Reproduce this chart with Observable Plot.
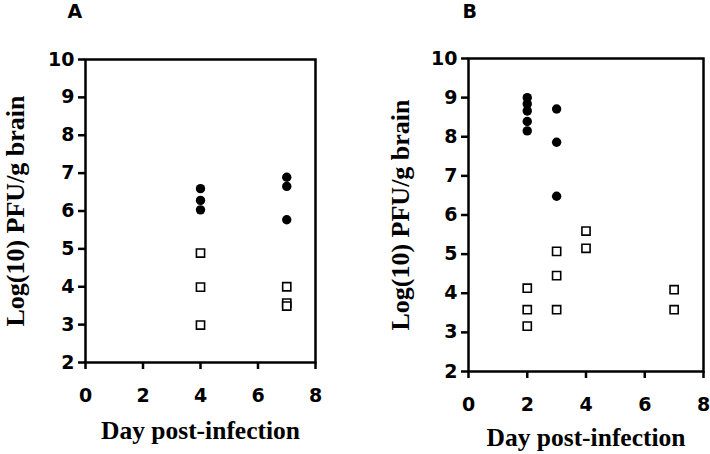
<!DOCTYPE html>
<html>
<head>
<meta charset="utf-8">
<script src="https://cdn.jsdelivr.net/npm/d3@7"></script>
<script src="https://cdn.jsdelivr.net/npm/@observablehq/plot@0.6"></script>
<style>
  html, body { margin: 0; padding: 0; background: #fff; }
  #wrap { position: relative; width: 710px; height: 454px; overflow: hidden; background: #fff; }
  #wrap > svg { position: absolute; top: 0; }
</style>
</head>
<body>
<div id="wrap"></div>
<script>
// ---- data ----
const xTicks = [0, 2, 4, 6, 8];
const yTicks = [2, 3, 4, 5, 6, 7, 8, 9, 10];
const panelLabels = ["A", "B"];
const xTitle = "Day post-infection";
const yTitle = "Log(10) PFU/g brain";

// Panel A
const aFilledDay = [4, 4, 4, 7, 7, 7];
const aFilledValue = [6.59, 6.28, 6.03, 6.89, 6.65, 5.77];
const aOpenDay = [4, 4, 4, 7, 7, 7];
const aOpenValue = [4.89, 3.99, 2.99, 4.0, 3.57, 3.49];

// Panel B
const bFilledDay = [2, 2, 2, 2, 2, 3, 3, 3];
const bFilledValue = [9.0, 8.84, 8.66, 8.39, 8.15, 8.71, 7.86, 6.48];
const bOpenDay = [2, 2, 2, 3, 3, 3, 4, 4, 7, 7];
const bOpenValue = [4.13, 3.58, 3.16, 5.07, 4.45, 3.58, 5.59, 5.15, 4.09, 3.58];

function rows(xs, ys) { return xs.map((x, i) => ({x, y: ys[i]})); }

function panel(cfg) {
  const tickFont = {fontSize: 19, fontWeight: "bold", fontFamily: "DejaVu Sans"};
  return Plot.plot({
    width: 355,
    height: 454,
    marginLeft: cfg.ml, marginRight: cfg.mr, marginTop: cfg.mt, marginBottom: cfg.mb,
    style: {background: "#fff", color: "#000", overflow: "visible"},
    x: {domain: [0, 8], ticks: xTicks, label: null},
    y: {domain: [2, 10], ticks: yTicks, label: null},
    marks: [
      Plot.axisX({ticks: xTicks, tickSize: 7, tickPadding: 19, strokeWidth: 2.5, label: null, ...tickFont}),
      Plot.axisY({ticks: yTicks, tickSize: 7, tickPadding: 4, strokeWidth: 2.5, label: null, ...tickFont}),
      Plot.frame({stroke: "#000", strokeWidth: 2.5}),
      Plot.dot(rows(cfg.openDay, cfg.openValue), {x: "x", y: "y", symbol: "square", r: 4.6, fill: "#fff", stroke: "#000", strokeWidth: 1.6}),
      Plot.dot(rows(cfg.filledDay, cfg.filledValue), {x: "x", y: "y", symbol: "circle", r: 4.7, fill: "#000", stroke: "none"}),
      Plot.text([yTitle], {text: d => d, frameAnchor: "left", textAnchor: "middle", lineAnchor: "middle", rotate: -90, dx: cfg.ytDx,
        fontSize: 26, fontWeight: "bold", fontFamily: "Liberation Serif", fill: "#000"}),
      Plot.text([xTitle], {text: d => d, frameAnchor: "bottom", textAnchor: "middle", lineAnchor: "middle", dy: cfg.xtDy,
        fontSize: 25.5, fontWeight: "bold", fontFamily: "Liberation Serif", fill: "#000"}),
      Plot.text([cfg.label], {text: d => d, frameAnchor: "top-left", textAnchor: "start", lineAnchor: "middle", dx: cfg.lDx, dy: cfg.lDy,
        fontSize: 19, fontWeight: "bold", fontFamily: "DejaVu Sans", fill: "#000"})
    ]
  });
}

const wrap = document.getElementById("wrap");
const svgA = panel({ml: 85, mr: 40, mt: 59, mb: 92, openDay: aOpenDay, openValue: aOpenValue,
  filledDay: aFilledDay, filledValue: aFilledValue, ytDx: -70, xtDy: 68, label: panelLabels[0], lDx: -18, lDy: -47.5});
const svgB = panel({ml: 113, mr: 7, mt: 58, mb: 83, openDay: bOpenDay, openValue: bOpenValue,
  filledDay: bFilledDay, filledValue: bFilledValue, ytDx: -68, xtDy: 66, label: panelLabels[1], lDx: -6, lDy: -46.5});
svgA.style.left = "0px";
svgB.style.left = "355px";
wrap.appendChild(svgA);
wrap.appendChild(svgB);
</script>
</body>
</html>
